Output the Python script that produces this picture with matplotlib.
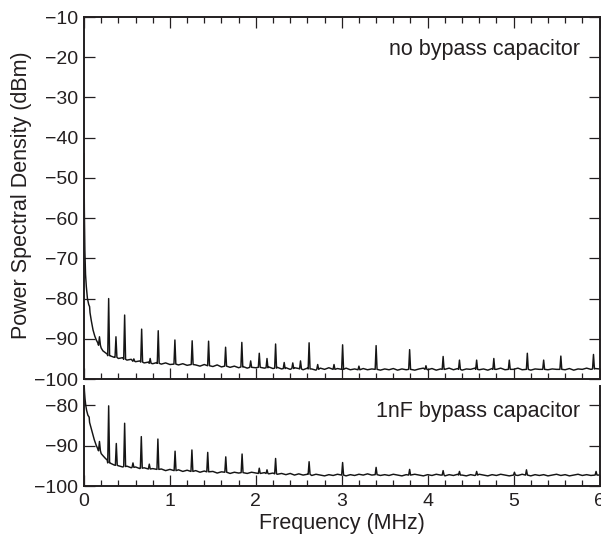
import numpy as np
import matplotlib
matplotlib.use("Agg")
import matplotlib.pyplot as plt
from matplotlib.ticker import MultipleLocator

plt.rcParams['font.family'] = ['Liberation Sans', 'DejaVu Sans']

# ---------------- data ----------------
# top panel: no bypass capacitor
top_head_f = [0.0, 0.004, 0.01, 0.018, 0.027, 0.04, 0.055, 0.065, 0.07, 0.085,
              0.105, 0.125, 0.143, 0.16, 0.2, 0.22, 0.25, 0.27]
top_head_db = [-44, -58, -68, -74, -77, -80, -81.5, -82.0, -83.5, -85.5,
               -87.8, -89.3, -90.3, -91.0, -92.3, -93.0, -93.5, -93.8]
grid_f = np.round(np.arange(0.30, 6.001, 0.05), 3)
top_floor_db = [
    -94.2, -94.6, -94.9, -94.7, -95.3, -95.1, -95.7, -95.5, -96.0, -95.8,
    -96.2, -95.9, -96.3, -96.0, -96.4, -96.1, -96.5, -96.2, -96.6, -96.3,
    -96.5, -96.8, -96.4, -96.7, -96.9, -96.5, -97.0, -96.7, -97.1, -96.8,
    -97.2, -96.9, -97.3, -96.9, -97.2, -96.9, -97.3, -97.0, -97.4, -97.1,
    -97.5, -97.2, -97.6, -97.2, -97.4, -97.7, -97.3, -97.5, -97.8, -97.3,
    -97.6, -97.2, -97.7, -97.4, -97.6, -97.3, -97.7, -97.5, -97.8, -97.4,
    -97.7, -97.5, -97.6, -97.8, -97.5, -97.7, -97.4, -97.8, -97.5, -97.7,
    -97.4, -97.8, -97.5, -97.3, -97.7, -97.4, -97.8, -97.5, -97.6, -97.3,
    -97.7, -97.4, -97.8, -97.5, -97.6, -97.3, -97.7, -97.5, -97.8, -97.4,
    -97.6, -97.3, -97.7, -97.5, -97.6, -97.3, -97.7, -97.4, -97.8, -97.5,
    -97.6, -97.3, -97.7, -97.5, -97.6, -97.4, -97.7, -97.4, -97.8, -97.5,
    -97.6, -97.3, -97.6, -97.4, -97.5]
top_peak_f = [0.18, 0.287, 0.372, 0.473, 0.58, 0.671, 0.77, 0.864, 1.058, 1.259,
              1.45, 1.648, 1.837, 1.94, 2.04, 2.13, 2.23, 2.33, 2.43, 2.52,
              2.62, 2.72, 2.91, 3.01, 3.20, 3.40, 3.79, 3.98, 4.18, 4.37,
              4.57, 4.77, 4.95, 5.16, 5.35, 5.55, 5.93]
top_peak_db = [-89.5, -80.0, -89.5, -84.1, -95.0, -87.6, -94.9, -88.0, -90.3, -90.5,
               -90.6, -92.1, -90.9, -95.5, -93.6, -94.9, -91.3, -95.9, -96.0, -95.5,
               -91.0, -96.4, -96.4, -91.5, -96.8, -91.7, -92.7, -96.7, -94.4, -95.3,
               -95.3, -94.9, -95.3, -93.6, -95.3, -94.3, -93.9]
top_peak_base = [-91.6, -94.2, -94.6, -95.1, -95.6, -95.8, -96.1, -96.1, -96.3, -96.4,
                 -96.7, -96.8, -97.0, -97.1, -97.1, -97.2, -97.3, -97.4, -97.4, -97.5,
                 -97.5, -97.6, -97.6, -97.6, -97.7, -97.6, -97.6, -97.6, -97.6, -97.6,
                 -97.6, -97.6, -97.6, -97.6, -97.6, -97.6, -97.5]

# bottom panel: 1nF bypass capacitor
bot_head_f = [0.0, 0.005, 0.012, 0.02, 0.03, 0.045, 0.06, 0.065, 0.08, 0.1,
              0.12, 0.143, 0.16, 0.2, 0.22, 0.25, 0.27]
bot_head_db = [-74, -76.5, -78.5, -80.0, -81.3, -82.5, -83.0, -84.3, -85.5, -87.0,
               -88.6, -90.0, -90.8, -92.0, -92.5, -93.2, -93.6]
bot_floor_db = [
    -94.3, -94.8, -95.0, -95.3, -95.1, -95.5, -95.3, -95.7, -95.5, -95.9,
    -95.7, -96.0, -95.8, -96.2, -95.9, -96.3, -96.0, -96.4, -96.1, -96.5,
    -96.2, -96.6, -96.3, -96.7, -96.4, -96.8, -96.5, -96.6, -96.9, -96.6,
    -96.8, -96.5, -96.9, -96.6, -96.8, -97.0, -96.7, -97.0, -96.8, -97.1,
    -96.9, -97.2, -96.9, -97.3, -97.0, -97.3, -97.1, -97.4, -97.1, -97.3,
    -97.5, -97.2, -97.4, -97.1, -97.3, -97.5, -97.2, -97.4, -97.1, -97.3,
    -97.0, -97.3, -97.1, -97.4, -97.2, -97.4, -97.1, -97.3, -97.5, -97.2,
    -97.4, -97.1, -97.3, -97.5, -97.2, -97.4, -97.1, -97.3, -97.5, -97.2,
    -97.4, -97.1, -97.3, -97.5, -97.2, -97.4, -97.1, -97.3, -97.5, -97.2,
    -97.4, -97.1, -97.3, -97.5, -97.2, -97.4, -97.1, -97.3, -97.5, -97.2,
    -97.4, -97.2, -97.5, -97.3, -97.1, -97.4, -97.2, -97.5, -97.3, -97.1,
    -97.4, -97.2, -97.4, -97.1, -97.3]
bot_peak_f = [0.18, 0.287, 0.376, 0.473, 0.57, 0.667, 0.76, 0.86, 1.06, 1.256,
              1.44, 1.65, 1.84, 2.04, 2.13, 2.23, 2.62, 3.01, 3.40, 3.79,
              4.18, 4.37, 4.57, 5.01, 5.15, 5.96]
bot_peak_db = [-89.0, -80.2, -89.5, -84.5, -94.3, -87.8, -94.6, -88.4, -91.4, -91.1,
               -91.7, -92.8, -92.1, -95.6, -96.0, -93.2, -94.0, -94.2, -95.4, -95.9,
               -96.2, -96.4, -96.4, -96.6, -96.0, -96.4]
bot_peak_base = [-91.3, -94.3, -94.9, -95.2, -95.4, -95.6, -95.8, -95.9, -96.2, -96.4,
                 -96.5, -96.6, -96.7, -96.9, -96.9, -97.0, -97.1, -97.3, -97.2, -97.3,
                 -97.3, -97.3, -97.3, -97.3, -97.3, -97.3]

x_ticks = [0, 1, 2, 3, 4, 5, 6]
top_yticks = [-100, -90, -80, -70, -60, -50, -40, -30, -20, -10]
bot_yticks = [-100, -90, -80]
top_label = "no bypass capacitor"
bot_label = "1nF bypass capacitor"


def build_trace(head_f, head_db, floor_f, floor_db, pk_f, pk_db, pk_base, w=0.011):
    f = list(head_f) + list(floor_f)
    d = list(head_db) + list(floor_db)
    pts = [(a, b) for a, b in zip(f, d)
           if all(abs(a - p) > w for p in pk_f)]
    for p, top, base in zip(pk_f, pk_db, pk_base):
        pts += [(p - w, base), (p, top), (p + w, base)]
    pts.sort(key=lambda t: t[0])
    return np.array([t[0] for t in pts]), np.array([t[1] for t in pts])


tf, td = build_trace(top_head_f, top_head_db, grid_f, top_floor_db,
                     top_peak_f, top_peak_db, top_peak_base)
bf, bd = build_trace(bot_head_f, bot_head_db, grid_f, bot_floor_db,
                     bot_peak_f, bot_peak_db, bot_peak_base)

# ---------------- figure ----------------
W, H = 601, 537
fig = plt.figure(figsize=(W / 100, H / 100), dpi=100)
txt = '#231f20'
line_c = '#151515'

ax1 = fig.add_axes([84 / W, 1 - 379 / H, 515.5 / W, 362 / H])
ax2 = fig.add_axes([84 / W, 1 - 486 / H, 515.5 / W, 100 / H])

for ax, (f, d), yt, lab, ylim, ty in [
        (ax1, (tf, td), top_yticks, top_label, (-100, -10), 0.91),
        (ax2, (bf, bd), bot_yticks, bot_label, (-100, -75.3), 0.74)]:
    ax.plot(f, d, color=line_c, lw=1.05, clip_on=True)
    ax.set_xlim(0, 6)
    ax.set_ylim(*ylim)
    ax.set_yticks(yt)
    ax.set_xticks(x_ticks)
    ax.xaxis.set_minor_locator(MultipleLocator(0.2))
    for s in ax.spines.values():
        s.set_linewidth(1.4)
        s.set_color(txt)
    ax.tick_params(axis='both', which='major', direction='in', length=8,
                   width=0.9, color=txt, labelcolor=txt, labelsize=14, pad=4)
    ax.tick_params(axis='both', which='minor', direction='in', length=4.5,
                   width=0.9, color=txt)
    ax.tick_params(axis='y', right=True, left=True)
    ax.text(0.963, ty, lab, transform=ax.transAxes,
            ha='right', va='center', fontsize=15.5, color=txt)

ax1.tick_params(axis='x', which='both', top=True, bottom=True, labelbottom=False)
ax2.spines['top'].set_visible(False)
ax2.tick_params(axis='x', which='both', top=False, bottom=True)
ax2.tick_params(axis='x', which='major', pad=5)

ax2.set_xlabel("Frequency (MHz)", fontsize=15.5, color=txt, labelpad=2)
fig.text(22 / W, 1 - 195 / H, "Power Spectral Density (dBm)", rotation=90,
         ha='center', va='center', fontsize=15.5, color=txt)

fig.savefig("out.png", dpi=100)
